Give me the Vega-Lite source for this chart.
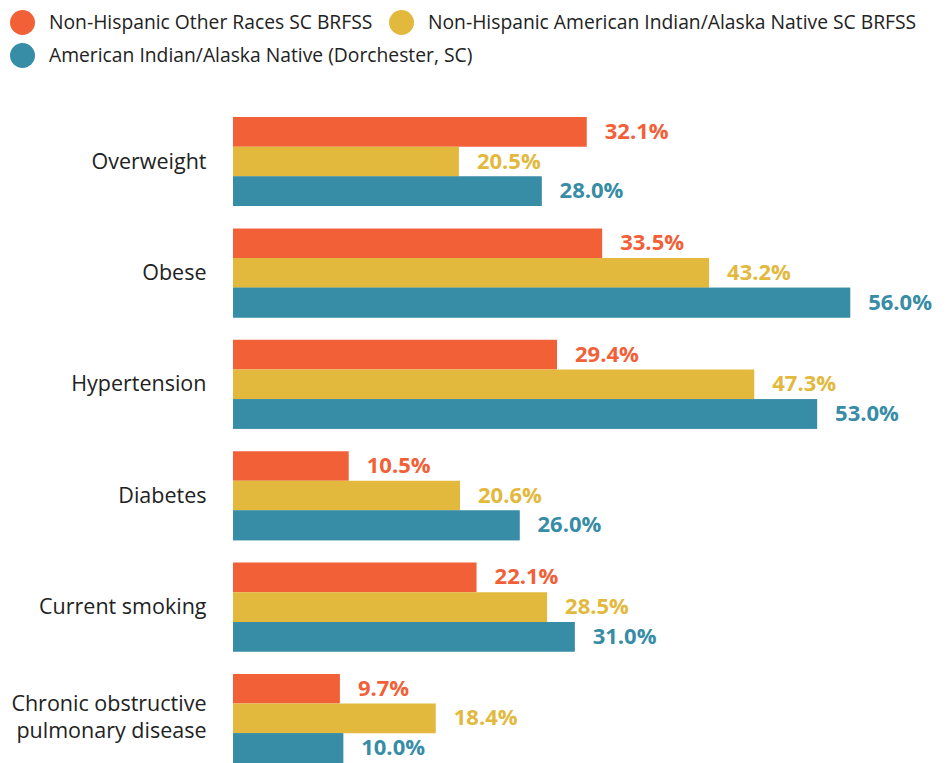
{
  "$schema": "https://vega.github.io/schema/vega-lite/v6.json",
  "width": 718,
  "height": 646,
  "autosize": {"type": "none"},
  "padding": {"left": 233, "top": 117, "right": 0, "bottom": 0},
  "background": "white",
  "config": {"view": {"stroke": null}},
  "data": {
    "values": [
      {"category": "Overweight", "group": "Non-Hispanic Other Races SC BRFSS", "value": 0.321},
      {"category": "Overweight", "group": "Non-Hispanic American Indian/Alaska Native SC BRFSS", "value": 0.205},
      {"category": "Overweight", "group": "American Indian/Alaska Native (Dorchester, SC)", "value": 0.28},
      {"category": "Obese", "group": "Non-Hispanic Other Races SC BRFSS", "value": 0.335},
      {"category": "Obese", "group": "Non-Hispanic American Indian/Alaska Native SC BRFSS", "value": 0.432},
      {"category": "Obese", "group": "American Indian/Alaska Native (Dorchester, SC)", "value": 0.56},
      {"category": "Hypertension", "group": "Non-Hispanic Other Races SC BRFSS", "value": 0.294},
      {"category": "Hypertension", "group": "Non-Hispanic American Indian/Alaska Native SC BRFSS", "value": 0.473},
      {"category": "Hypertension", "group": "American Indian/Alaska Native (Dorchester, SC)", "value": 0.53},
      {"category": "Diabetes", "group": "Non-Hispanic Other Races SC BRFSS", "value": 0.105},
      {"category": "Diabetes", "group": "Non-Hispanic American Indian/Alaska Native SC BRFSS", "value": 0.206},
      {"category": "Diabetes", "group": "American Indian/Alaska Native (Dorchester, SC)", "value": 0.26},
      {"category": "Current smoking", "group": "Non-Hispanic Other Races SC BRFSS", "value": 0.221},
      {"category": "Current smoking", "group": "Non-Hispanic American Indian/Alaska Native SC BRFSS", "value": 0.285},
      {"category": "Current smoking", "group": "American Indian/Alaska Native (Dorchester, SC)", "value": 0.31},
      {"category": "Chronic obstructive pulmonary disease", "group": "Non-Hispanic Other Races SC BRFSS", "value": 0.097},
      {"category": "Chronic obstructive pulmonary disease", "group": "Non-Hispanic American Indian/Alaska Native SC BRFSS", "value": 0.184},
      {"category": "Chronic obstructive pulmonary disease", "group": "American Indian/Alaska Native (Dorchester, SC)", "value": 0.1}
    ]
  },
  "encoding": {
    "y": {
      "field": "category",
      "type": "nominal",
      "sort": null,
      "scale": {"paddingInner": 0.2, "paddingOuter": 0},
      "axis": {
        "title": null,
        "domain": false,
        "ticks": false,
        "labelPadding": 27,
        "labelFont": "Open Sans",
        "labelFontSize": 21.5,
        "labelColor": "#222222",
        "labelLineHeight": 27,
        "labelLimit": 300,
        "labelOffset": {"condition": {"test": "datum.label == 'Chronic obstructive pulmonary disease'", "value": -13}, "value": 1},
        "labelExpr": "datum.label == 'Chronic obstructive pulmonary disease' ? ['Chronic obstructive', 'pulmonary disease'] : datum.label"
      }
    },
    "yOffset": {"field": "group", "type": "nominal", "sort": null, "scale": {"paddingInner": 0, "paddingOuter": 0}},
    "x": {
      "field": "value",
      "type": "quantitative",
      "scale": {"domain": [0, 0.6515], "nice": false},
      "axis": null
    },
    "fill": {
      "field": "group",
      "type": "nominal",
      "scale": {
        "domain": ["Non-Hispanic Other Races SC BRFSS", "Non-Hispanic American Indian/Alaska Native SC BRFSS", "American Indian/Alaska Native (Dorchester, SC)"],
        "range": ["#F26038", "#E2B93D", "#378CA6"]
      },
      "legend": {
        "title": null,
        "orient": "none",
        "legendX": -223,
        "legendY": -107,
        "direction": "horizontal",
        "values": ["Non-Hispanic Other Races SC BRFSS", "Non-Hispanic American Indian/Alaska Native SC BRFSS"],
        "symbolType": "circle",
        "symbolSize": 625,
        "symbolStrokeWidth": 0,
        "labelFont": "Open Sans",
        "labelFontSize": 19.3,
        "labelColor": "#222222",
        "labelOffset": 14,
        "labelLimit": 500,
        "columnPadding": 16
      }
    }
  },
  "layer": [
    {"mark": {"type": "bar"}},
    {
      "transform": [{"filter": "datum.group == 'American Indian/Alaska Native (Dorchester, SC)'"}],
      "mark": {"type": "bar", "strokeWidth": 0, "strokeOpacity": 0},
      "encoding": {
        "stroke": {
          "field": "group",
          "type": "nominal",
          "scale": {"domain": ["American Indian/Alaska Native (Dorchester, SC)"], "range": ["#378CA6"]},
          "legend": {
            "title": null,
            "orient": "none",
            "legendX": -223,
            "legendY": -74,
            "direction": "horizontal",
            "symbolType": "circle",
            "symbolSize": 625,
            "symbolFillColor": "#378CA6",
            "symbolStrokeWidth": 0,
            "labelFont": "Open Sans",
            "labelFontSize": 19.3,
            "labelColor": "#222222",
            "labelOffset": 14,
            "labelLimit": 500
          }
        }
      }
    },
    {
      "mark": {"type": "text", "align": "left", "baseline": "middle", "dx": 18, "font": "Open Sans", "fontSize": 22, "fontWeight": "bold"},
      "encoding": {"text": {"field": "value", "type": "quantitative", "format": ".1%"}}
    }
  ]
}
